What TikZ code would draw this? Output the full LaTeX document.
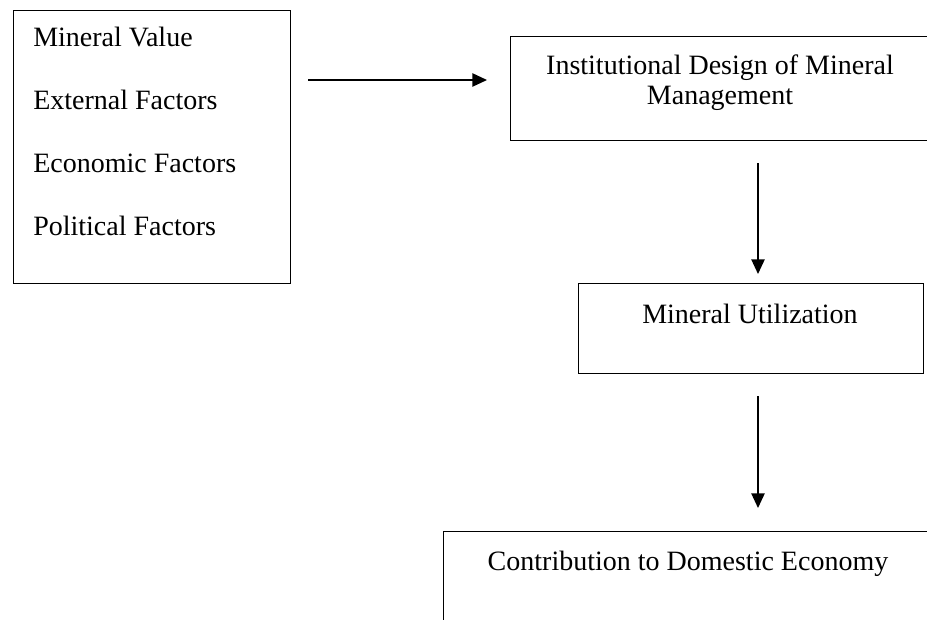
\documentclass[tikz,border=0pt]{standalone}
\usepackage{fontspec}
\setmainfont{Liberation Serif}
\usepackage{tikz}
\usetikzlibrary{arrows.meta}

\begin{document}
\begin{tikzpicture}[x=0.75pt,y=-0.75pt,
    box/.style={draw,rectangle,line width=1.1pt,inner sep=0pt,anchor=north west},
    txt/.style={inner sep=0pt,font=\fontsize{21}{22.5}\selectfont},
    flow/.style={-{Triangle[length=11pt,width=10pt]},line width=1.1pt}]
    \useasboundingbox (0,0) rectangle (927,620);
    \clip (0,0) rectangle (927,620);
    % boxes
    \node[box,minimum width=207.75pt,minimum height=204.75pt] (factors) at (13,10) {};
    \node[box,minimum width=315pt,minimum height=78pt] (inst) at (510,36) {};
    \node[box,minimum width=258.75pt,minimum height=67.5pt] (util) at (578,283) {};
    \node[box,minimum width=370.5pt,minimum height=90pt] (contrib) at (443,531) {};
    % texts
    \node[txt,align=left,anchor=north west,font=\fontsize{21}{47.25}\selectfont] (factorstext) at (33,27)
        {Mineral Value\\External Factors\\Economic Factors\\Political Factors};
    \node[txt,align=center,anchor=north] (insttext) at (720,55) {Institutional Design of Mineral\\Management};
    \node[txt,anchor=base] (utiltext) at (750,323) {Mineral Utilization};
    \node[txt,anchor=base] (contribtext) at (688,570) {Contribution to Domestic Economy};
    % arrows
    \coordinate (row) at (0,80);
    \coordinate (col) at (758,0);
    \draw[flow,shorten <=12.75pt,shorten >=17.25pt] (factors.east |- row) -- (inst.west |- row);
    \draw[flow,shorten <=16.5pt,shorten >=6.75pt] (col |- inst.south) -- (col |- util.north);
    \draw[flow,shorten <=16.5pt,shorten >=17.25pt] (col |- util.south) -- (col |- contrib.north);
\end{tikzpicture}
\end{document}
